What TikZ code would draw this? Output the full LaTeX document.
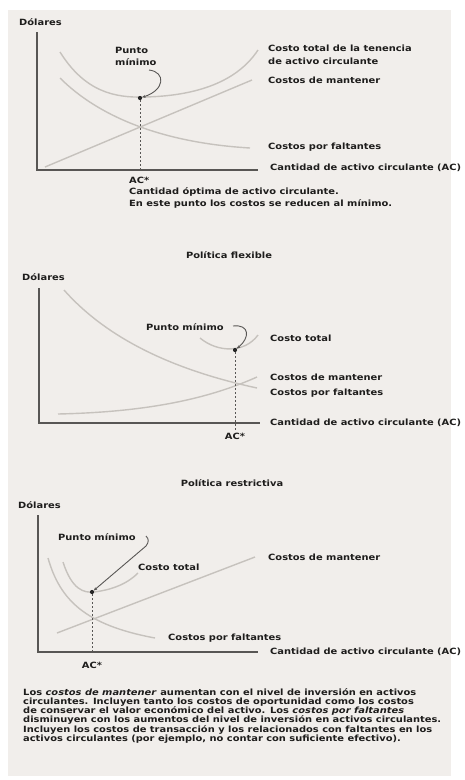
\documentclass[tikz,border=0pt]{standalone}
\usepackage{fontspec}
\setmainfont[FakeStretch=1.15]{DejaVu Sans}
\usetikzlibrary{arrows.meta}
\definecolor{panel}{HTML}{F1EEEB}
\definecolor{curvegray}{HTML}{C6C2BD}
\definecolor{axisgray}{HTML}{585654}
\definecolor{ink}{HTML}{1E1D1C}
\begin{document}
\begin{tikzpicture}[x=1pt,y=-1pt,
  curve/.style={draw=curvegray,line width=1.4pt},
  axis/.style={draw=axisgray,line width=1.3pt},
  guide/.style={draw=axisgray,line width=0.9pt,dash pattern=on 2pt off 2pt},
  lbl/.style={font=\fontsize{8.6}{11.8}\selectfont\bfseries,text=ink,inner sep=0pt,anchor=west},
  ttl/.style={lbl,anchor=center},
  para/.style={font=\fontsize{8.6}{9.3}\selectfont\bfseries,text=ink,inner sep=0pt,anchor=north west,align=left},
  dotm/.style={circle,fill=black!85,inner sep=0pt,minimum size=4.2pt},
  pointer/.style={draw=axisgray,line width=0.9pt,-{Stealth[length=3.5pt,width=3pt]}}
]
\useasboundingbox (0,0) rectangle (465,780);
\fill[white] (0,0) rectangle (465,780);
\fill[panel] (8,10) rectangle (451,776);

% ---------- Chart 1 ----------
\node[lbl] (d1) at (19,22) {Dólares};
\coordinate (y1) at (37,32);
\coordinate (o1) at (37,170);
\coordinate (x1) at (258,170);
\draw[curve] (60,52) .. controls (85,92) and (115,98) .. (145,97) .. controls (190,96) and (235,85) .. (258,50);
\draw[curve] (45,167) -- (252,80);
\draw[curve] (60,78) .. controls (100,118) and (165,143) .. (250,148);
\draw[axis] (y1) -- (o1) -- (x1);
\node[dotm] (m1) at (140,98) {};
\coordinate (b1) at (140,170);
\draw[guide] (m1) -- (b1);
\node[lbl,anchor=north west,align=left] (pm1) at (115,47) {Punto\\mínimo};
\coordinate (p1s) at (149,70);
\draw[pointer] (p1s) .. controls (166,72) and (165,90) .. (m1);
\node[lbl] (tc1a) at (268,48) {Costo total de la tenencia};
\node[lbl] (tc1b) at (268,61.5) {de activo circulante};
\node[lbl] (cm1) at (268,80) {Costos de mantener};
\node[lbl] (cf1) at (268,147) {Costos por faltantes};
\node[lbl] (xl1) at (270,168) {Cantidad de activo circulante (AC)};
\node[lbl] (ac1) at (129,180) {AC*};
\node[lbl] (ac1b) at (129,192) {Cantidad óptima de activo circulante.};
\node[lbl] (ac1c) at (129,204) {En este punto los costos se reducen al mínimo.};

% ---------- Chart 2 ----------
\node[ttl] (t2) at (229,255) {Política flexible};
\node[lbl] (d2) at (22,277) {Dólares};
\coordinate (y2) at (39,288);
\coordinate (o2) at (39,423);
\coordinate (x2) at (260,423);
\draw[curve] (64,290) .. controls (95,325) and (150,365) .. (257,388);
\draw[curve] (58,414) .. controls (150,412) and (210,398) .. (257,377);
\draw[curve] (200,338) .. controls (218,353) and (245,353) .. (258,335);
\draw[axis] (y2) -- (o2) -- (x2);
\node[dotm] (m2) at (235,350) {};
\coordinate (b2) at (235,430);
\draw[guide] (m2) -- (b2);
\node[lbl] (pm2) at (146,327) {Punto mínimo};
\coordinate (p2s) at (233,326);
\draw[pointer] (p2s) .. controls (250,324) and (250,338) .. (m2);
\node[lbl] (tc2) at (270,338) {Costo total};
\node[lbl] (cm2) at (270,377) {Costos de mantener};
\node[lbl] (cf2) at (270,393) {Costos por faltantes};
\node[lbl] (xl2) at (270,423) {Cantidad de activo circulante (AC)};
\node[ttl] (ac2) at (235,436) {AC*};

% ---------- Chart 3 ----------
\node[ttl] (t3) at (232,483) {Política restrictiva};
\node[lbl] (d3) at (18,505) {Dólares};
\coordinate (y3) at (38,515);
\coordinate (o3) at (38,652);
\coordinate (x3) at (258,652);
\draw[curve] (48,558) .. controls (60,600) and (85,625) .. (155,638);
\draw[curve] (63,562) .. controls (72,590) and (84,593) .. (94,592) .. controls (110,590) and (126,585) .. (138,573);
\draw[curve] (57,633) -- (255,557);
\draw[axis] (y3) -- (o3) -- (x3);
\node[dotm] (m3) at (92,592) {};
\coordinate (b3) at (92,652);
\draw[guide] (m3) -- (b3);
\node[lbl] (pm3) at (58,537) {Punto mínimo};
\coordinate (p3s) at (146,536);
\draw[pointer] (p3s) .. controls (149,539) and (149,542) .. (146,546) -- (m3);
\node[lbl] (tc3) at (138,567) {Costo total};
\node[lbl] (cm3) at (268,557) {Costos de mantener};
\node[lbl] (cf3) at (168,638) {Costos por faltantes};
\node[lbl] (xl3) at (270,652) {Cantidad de activo circulante (AC)};
\node[ttl] (ac3) at (92,665) {AC*};

% ---------- Paragraph ----------
\node[para] (txt) at (23,688) {Los \textit{costos de mantener} aumentan con el nivel de inversión en activos\\
circulantes. Incluyen tanto los costos de oportunidad como los costos\\
de conservar el valor económico del activo. Los \textit{costos por faltantes}\\
disminuyen con los aumentos del nivel de inversión en activos circulantes.\\
Incluyen los costos de transacción y los relacionados con faltantes en los\\
activos circulantes (por ejemplo, no contar con suficiente efectivo).};
\end{tikzpicture}
\end{document}
